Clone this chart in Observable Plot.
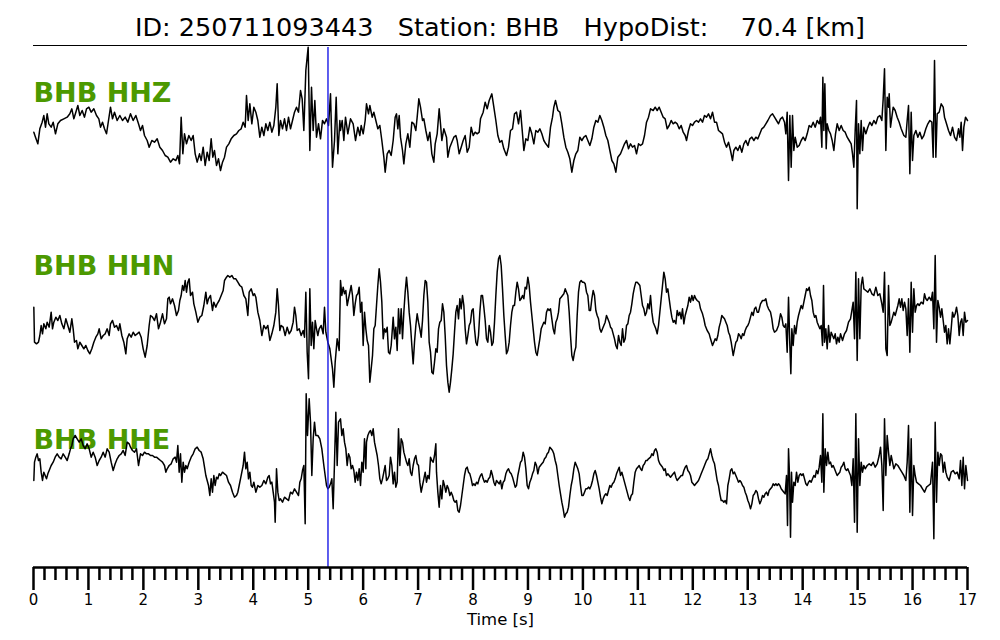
<!DOCTYPE html>
<html><head><meta charset="utf-8">
<script src="https://cdn.jsdelivr.net/npm/d3@7"></script>
<script src="https://cdn.jsdelivr.net/npm/@observablehq/plot@0.6"></script>
<style>
html,body{margin:0;padding:0;background:#fff;}
#wrap{position:relative;width:1000px;height:640px;}
#title{position:absolute;left:33px;width:934px;top:15px;font-family:"DejaVu Sans";font-size:25.5px;line-height:1;text-align:center;white-space:pre;color:#000;}
#rule{position:absolute;left:33px;width:934px;top:45.3px;height:0;border-top:1.5px solid #000;}
#chart{position:absolute;left:0;top:0;}
</style></head><body>
<div id="wrap"><div id="chart"></div><div id="title"></div><div id="rule"></div></div>
<script>
// ---- data ----
const eventId = "250711093443";
const station = "BHB";
const hypoDist = 70.4;            // km
const channels = ["HHZ", "HHN", "HHE"];
const traceOffset = [0, -615, -1035]; // vertical separation of traces (counts)
const sampleRate = 164.82;        // digitised samples per second
const firstSample = 9;            // sample index at t = 0
const pickTime = 5.36;            // s, blue pick line
const majorTicks = [0,1,2,3,4,5,6,7,8,9,10,11,12,13,14,15,16,17];
const xLabel = "Time [s]";

// traces: flat pairs [sample, counts]
const hhz = [10,-275,15,-290,22,-310,28,-265,35,-245,40,-225,45,-260,50,-220,55,-250,62,-260,68,-245,75,-280,82,-250,90,-240,100,-235,110,-230,118,-220,124,-205,130,-235,136,-215,142,-195,148,-225,155,-210,162,-230,168,-205,175,-200,182,-215,190,-205,198,-225,205,-235,210,-260,216,-245,222,-265,228,-280,234,-240,240,-200,246,-235,252,-215,260,-240,268,-225,276,-240,284,-230,292,-245,300,-220,308,-240,316,-225,324,-250,330,-270,336,-255,342,-285,350,-300,356,-320,364,-300,372,-305,380,-295,388,-320,396,-330,404,-345,412,-350,420,-365,428,-355,436,-360,442,-345,447,-370,452,-230,457,-340,462,-280,468,-310,475,-285,482,-300,488,-285,494,-340,500,-365,507,-340,512,-360,518,-320,524,-375,530,-335,536,-360,542,-295,547,-350,552,-330,558,-375,564,-355,570,-390,576,-365,582,-350,588,-320,595,-310,602,-295,610,-285,618,-280,625,-270,632,-265,638,-245,644,-260,648,-165,653,-240,658,-190,664,-250,670,-200,676,-215,682,-240,688,-290,694,-260,700,-285,706,-250,712,-270,718,-245,724,-275,730,-255,736,-200,740,-130,745,-285,750,-240,756,-265,762,-235,768,-270,774,-230,780,-265,786,-240,792,-215,798,-200,804,-215,810,-150,815,-175,820,-270,826,-90,833,-20,838,-330,843,-140,848,-270,853,-180,858,-290,864,-250,870,-295,876,-240,882,-250,888,-235,894,-255,900,-160,906,-380,912,-300,917,-170,922,-340,928,-240,
930,-270,935,-240,940,-300,945,-230,952,-280,960,-235,968,-250,975,-300,982,-260,988,-285,992,-255,998,-280,1004,-240,1008,-190,1014,-220,1018,-195,1025,-230,1030,-215,1036,-240,1042,-265,1048,-255,1054,-300,1060,-350,1064,-395,1070,-340,1076,-330,1082,-345,1088,-300,1094,-230,1098,-220,1102,-265,1106,-225,1110,-290,1116,-330,1120,-370,1126,-310,1132,-280,1138,-320,1144,-245,1150,-250,1156,-270,1160,-230,1165,-175,1170,-200,1176,-240,1180,-235,1186,-270,1192,-300,1198,-275,1204,-340,1210,-365,1214,-310,1220,-280,1226,-205,1230,-250,1234,-300,1240,-265,1248,-290,1252,-350,1258,-320,1264,-305,1270,-290,1276,-285,1280,-300,1286,-340,1292,-320,1298,-300,1304,-285,1310,-335,1316,-320,1322,-260,1328,-285,1334,-275,1340,-280,1346,-275,1350,-235,1358,-215,1364,-185,1370,-205,1376,-180,1384,-160,1390,-200,1396,-240,1402,-285,1408,-305,1414,-300,1420,-325,1428,-345,1434,-320,1440,-270,1446,-265,1452,-220,1458,-215,1464,-250,1470,-210,1476,-280,1480,-330,1486,-295,1492,-300,1498,-260,1504,-280,1510,-310,1516,-270,1522,-275,1528,-265,1534,-280,1540,-300,1546,-310,1554,-320,1560,-260,1566,-230,1570,-200,1575,-180,1582,-210,1588,-215,1594,-250,1600,-290,1606,-320,1612,-335,1618,-355,1624,-395,1630,-360,1636,-340,1642,-330,1648,-290,1654,-300,1660,-290,1666,-285,1672,-300,1678,-315,1684,-295,1690,-260,1696,-240,1702,-245,1708,-225,1714,-240,1720,-260,1726,-285,1732,-300,1738,-330,1744,-360,1750,-370,1756,-395,1762,-350,1770,-340,1776,-325,1782,-310,1788,-300,1794,-325,1800,-310,1806,-320,1812,-315,1818,-340,1824,-310,1830,-315,1836,-310,1842,-285,1848,-245,1854,-230,
1860,-205,1868,-210,1874,-200,1880,-210,1886,-200,1892,-215,1898,-230,1904,-235,1910,-265,1916,-255,1922,-240,1928,-250,1934,-245,1940,-250,1946,-265,1952,-255,1958,-275,1964,-285,1968,-300,1974,-270,1980,-250,1986,-255,1992,-245,1998,-240,2004,-245,2010,-235,2016,-245,2022,-225,2028,-230,2034,-220,2040,-235,2046,-215,2052,-245,2058,-245,2064,-270,2070,-275,2076,-280,2082,-305,2088,-320,2094,-305,2100,-330,2106,-360,2110,-330,2116,-320,2122,-330,2128,-315,2134,-335,2140,-310,2146,-300,2152,-315,2158,-295,2164,-290,2170,-300,2176,-290,2182,-295,2188,-280,2194,-265,2200,-260,2206,-250,2212,-240,2220,-225,2226,-220,2232,-230,2238,-240,2244,-250,2250,-235,2256,-230,2262,-245,2266,-280,2270,-215,2274,-420,2278,-225,2282,-380,2286,-225,2290,-330,2294,-290,2300,-320,2306,-315,2312,-300,2318,-290,2324,-300,2330,-280,2336,-255,2342,-260,2348,-245,2354,-260,2360,-240,2366,-250,2370,-230,2374,-320,2377,-110,2380,-270,2383,-130,2387,-325,2390,-250,2395,-270,2400,-280,2405,-300,2410,-330,2415,-280,2420,-250,2426,-270,2432,-255,2438,-270,2444,-275,2450,-290,2456,-300,2462,-310,2466,-340,2470,-380,2474,-270,2478,-180,2480,-505,2484,-250,2488,-340,2492,-240,2496,-330,2500,-260,2506,-280,2512,-260,2518,-245,2524,-255,2530,-240,2536,-250,2542,-230,2548,-225,2554,-240,2558,-175,2562,-85,2566,-330,2570,-170,2574,-200,2576,-160,2580,-260,2584,-230,2588,-200,2594,-210,2600,-230,2606,-245,2612,-265,2620,-285,2626,-290,2630,-240,2634,-195,2638,-400,2642,-215,2646,-360,2650,-285,2656,-270,2662,-290,2668,-275,2674,-295,2680,-285,2686,-265,2692,-250,2698,-240,2704,-245,2708,-350,2712,-60,2716,-350,2720,-220,2726,-215,2732,-190,2738,-200,2742,-230,2748,-250,2754,-270,2760,-285,2766,-260,2772,-290,2778,-300,2784,-265,2788,-290,2792,-245,2796,-330,2800,-260,2805,-230,2811,-240];

const hhn = [10,-185,12,-290,18,-295,24,-290,28,-270,32,-240,36,-265,40,-235,46,-250,50,-230,56,-245,62,-200,66,-250,70,-230,76,-215,82,-225,88,-210,94,-235,100,-250,106,-220,112,-240,118,-260,124,-220,128,-250,132,-290,138,-285,142,-310,148,-290,154,-300,160,-310,166,-300,172,-315,178,-325,184,-310,190,-290,196,-275,202,-265,206,-250,212,-280,218,-270,224,-265,230,-250,236,-270,240,-235,246,-225,252,-245,258,-240,264,-255,268,-235,274,-270,280,-290,286,-325,290,-280,296,-265,302,-275,308,-260,314,-270,320,-265,326,-260,332,-275,338,-310,344,-335,350,-300,356,-240,360,-210,366,-215,372,-225,378,-205,384,-250,390,-230,396,-205,402,-235,408,-220,412,-160,416,-155,420,-175,426,-160,432,-180,438,-210,444,-195,448,-165,452,-150,456,-120,460,-135,464,-105,468,-140,472,-110,476,-100,480,-150,486,-140,490,-175,496,-200,502,-230,508,-215,514,-210,520,-180,526,-140,530,-175,534,-160,540,-150,546,-195,550,-170,556,-185,560,-175,566,-165,572,-150,578,-135,582,-105,588,-95,592,-90,598,-95,604,-90,610,-100,616,-100,622,-110,628,-120,634,-125,640,-150,646,-160,652,-210,656,-140,662,-130,668,-150,672,-145,676,-155,682,-200,688,-225,694,-270,700,-240,706,-250,712,-240,718,-285,724,-265,730,-240,736,-200,740,-130,744,-180,748,-255,752,-240,758,-245,764,-270,770,-245,776,-265,782,-255,788,-230,792,-185,796,-210,800,-255,806,-250,812,-270,818,-255,822,-275,826,-140,830,-320,834,-400,838,-130,842,-300,846,-230,850,-310,854,-225,858,-250,862,-270,866,-250,872,-240,878,-265,882,-185,886,-260,892,-290,898,-310,902,-340,906,-370,910,-425,914,-350,920,-280,926,-315,
930,-105,934,-150,938,-125,942,-145,946,-135,950,-180,956,-150,962,-120,966,-150,970,-210,974,-175,978,-150,982,-145,986,-125,990,-200,994,-170,998,-300,1002,-200,1006,-250,1010,-285,1014,-300,1018,-410,1022,-370,1026,-330,1030,-250,1034,-240,1038,-180,1042,-120,1046,-70,1050,-110,1054,-170,1058,-280,1062,-250,1066,-260,1070,-245,1074,-320,1078,-325,1082,-300,1086,-245,1088,-215,1092,-280,1096,-245,1100,-315,1104,-190,1108,-265,1112,-190,1116,-280,1120,-200,1124,-140,1128,-95,1132,-140,1136,-200,1140,-240,1144,-300,1148,-355,1152,-290,1156,-240,1160,-205,1164,-230,1168,-250,1172,-275,1176,-225,1180,-150,1184,-105,1188,-110,1192,-170,1196,-290,1200,-320,1204,-380,1208,-385,1212,-350,1216,-310,1220,-320,1224,-250,1228,-230,1232,-225,1236,-175,1240,-200,1244,-270,1248,-360,1252,-410,1256,-440,1260,-410,1264,-370,1268,-325,1272,-260,1276,-200,1280,-180,1284,-220,1288,-160,1292,-190,1296,-150,1300,-180,1304,-250,1308,-295,1312,-270,1316,-240,1320,-230,1324,-195,1328,-190,1332,-250,1336,-290,1340,-300,1344,-270,1348,-200,1352,-150,1356,-150,1360,-185,1364,-225,1368,-280,1372,-290,1376,-240,1380,-260,1384,-300,1388,-290,1392,-230,1396,-150,1400,-80,1404,-40,1408,-30,1412,-60,1416,-130,1420,-210,1424,-270,1428,-325,1432,-315,1436,-290,1440,-240,1444,-200,1448,-180,1452,-180,1456,-140,1460,-110,1464,-130,1468,-165,1472,-160,1476,-150,1480,-160,1484,-125,1488,-130,1492,-95,1496,-120,1500,-170,1504,-210,1508,-250,1512,-290,1516,-320,1520,-330,1524,-305,1528,-280,1532,-250,1536,-240,1540,-230,1544,-235,1548,-200,1552,-190,1556,-195,1560,-190,1564,-220,1568,-250,1572,-265,1576,-230,1580,-220,1584,-200,1588,-160,1592,-155,1596,-150,1600,-145,1604,-130,1608,-140,1612,-150,1616,-200,1620,-270,1624,-330,1628,-345,1632,-320,1636,-305,1640,-210,1644,-140,1648,-110,1652,-105,1656,-110,1660,-110,1664,-115,1668,-140,1672,-150,1676,-195,1680,-195,1684,-160,1688,-135,1692,-150,1696,-195,1700,-210,1704,-220,1708,-250,1712,-260,1716,-250,1720,-240,1724,-230,1728,-210,1732,-220,1736,-230,1740,-245,1744,-250,1748,-265,1752,-280,1756,-300,1760,-310,1764,-270,1768,-290,1772,-300,1776,-250,1780,-290,1784,-280,1788,-240,1792,-235,1796,-210,1800,-200,1804,-175,1808,-145,1812,-125,1816,-110,1820,-110,1824,-115,1828,-120,1832,-150,1836,-180,1840,-190,1844,-210,1848,-200,1852,-175,1856,-190,
1860,-150,1864,-200,1868,-230,1872,-240,1876,-250,1880,-265,1884,-240,1888,-200,1892,-160,1896,-120,1900,-80,1904,-100,1908,-140,1912,-130,1916,-160,1920,-190,1924,-215,1928,-230,1932,-225,1936,-235,1940,-195,1944,-210,1948,-200,1952,-220,1956,-190,1960,-235,1964,-210,1968,-195,1972,-180,1976,-155,1980,-170,1984,-150,1988,-165,1992,-150,1996,-160,2000,-165,2006,-170,2010,-190,2016,-205,2020,-220,2024,-240,2030,-255,2036,-265,2040,-280,2046,-300,2050,-290,2054,-280,2058,-285,2062,-270,2066,-245,2070,-230,2074,-210,2078,-215,2082,-220,2086,-230,2090,-240,2094,-260,2098,-270,2102,-290,2108,-330,2112,-310,2116,-290,2120,-285,2124,-265,2128,-270,2132,-280,2136,-265,2140,-270,2144,-255,2148,-245,2152,-240,2156,-230,2160,-215,2164,-200,2168,-210,2172,-190,2176,-185,2180,-200,2184,-200,2190,-175,2196,-165,2202,-165,2206,-160,2210,-180,2214,-190,2220,-200,2224,-220,2228,-250,2232,-260,2238,-255,2244,-240,2250,-205,2254,-215,2258,-240,2262,-245,2266,-235,2270,-320,2274,-155,2278,-300,2281,-385,2284,-250,2288,-300,2292,-240,2296,-265,2300,-230,2304,-210,2308,-195,2312,-180,2316,-190,2320,-170,2324,-150,2328,-130,2332,-135,2336,-125,2340,-150,2344,-165,2348,-200,2352,-215,2356,-210,2360,-230,2364,-240,2368,-250,2372,-240,2376,-300,2379,-120,2382,-290,2386,-250,2390,-310,2394,-240,2398,-290,2402,-260,2406,-270,2410,-280,2414,-265,2418,-295,2422,-275,2426,-290,2430,-265,2436,-285,2442,-265,2448,-255,2454,-230,2460,-220,2464,-195,2468,-170,2472,-280,2476,-80,2480,-345,2484,-100,2488,-280,2492,-120,2496,-95,2500,-130,2506,-135,2512,-140,2518,-130,2524,-145,2530,-150,2536,-125,2542,-150,2548,-145,2554,-175,2558,-200,2562,-80,2566,-310,2570,-330,2574,-120,2578,-240,2582,-230,2586,-215,2590,-200,2594,-210,2598,-195,2602,-180,2606,-160,2610,-185,2614,-160,2618,-195,2622,-170,2626,-190,2630,-270,2634,-160,2638,-320,2642,-110,2646,-260,2650,-130,2654,-200,2658,-180,2662,-175,2666,-180,2672,-170,2678,-175,2682,-145,2686,-160,2690,-165,2696,-155,2702,-165,2706,-140,2710,-250,2714,-30,2718,-290,2722,-165,2726,-185,2730,-215,2734,-190,2738,-225,2742,-260,2746,-240,2750,-295,2754,-250,2758,-295,2762,-250,2766,-200,2770,-215,2774,-205,2778,-185,2782,-210,2786,-270,2790,-230,2794,-220,2798,-270,2802,-200,2806,-230,2811,-225];

const hhe = [10,-285,12,-230,16,-215,20,-205,24,-225,28,-220,32,-260,36,-285,40,-260,44,-270,48,-280,52,-265,56,-255,62,-240,68,-230,74,-215,80,-205,86,-215,92,-220,98,-205,104,-215,110,-225,116,-205,120,-190,124,-180,128,-160,134,-150,140,-160,146,-170,152,-160,158,-180,164,-190,170,-175,176,-190,182,-215,188,-200,194,-215,200,-240,206,-225,212,-215,218,-200,224,-215,230,-190,236,-200,242,-230,248,-255,254,-235,260,-220,266,-210,272,-205,278,-195,284,-210,290,-170,296,-175,300,-185,306,-195,312,-200,318,-190,324,-240,330,-205,336,-210,342,-200,348,-205,354,-205,360,-210,366,-210,372,-215,378,-215,384,-220,390,-225,396,-230,402,-240,406,-260,410,-250,416,-240,422,-235,428,-220,434,-215,438,-230,442,-180,446,-260,450,-205,454,-290,458,-230,462,-260,466,-240,470,-250,476,-230,482,-215,488,-205,494,-190,500,-185,506,-195,512,-200,518,-220,522,-245,526,-270,530,-285,534,-300,538,-330,542,-280,546,-320,550,-270,554,-300,558,-275,562,-280,566,-265,570,-270,576,-260,582,-265,588,-270,594,-290,600,-300,606,-320,612,-335,618,-330,622,-320,626,-300,630,-280,634,-260,638,-240,642,-200,646,-250,650,-230,654,-280,658,-260,662,-300,666,-305,670,-290,676,-320,682,-300,688,-305,694,-300,700,-285,706,-295,712,-275,716,-270,720,-295,724,-290,728,-320,732,-350,734,-410,738,-250,742,-320,746,-345,750,-340,756,-350,762,-335,768,-340,774,-345,780,-320,786,-325,792,-310,798,-320,804,-330,808,-290,812,-280,816,-255,820,-240,824,-415,827,-25,831,-150,836,-40,840,-110,844,-270,848,-160,852,-110,856,-150,862,-150,868,-160,874,-190,880,-240,884,-270,888,-300,892,-310,896,-305,900,-295,904,-280,908,-370,912,-230,916,-80,920,-240,924,-110,
930,-100,934,-150,938,-130,942,-170,946,-190,950,-240,954,-205,958,-215,962,-250,966,-240,970,-255,974,-290,978,-260,982,-285,986,-250,990,-300,994,-230,998,-260,1002,-160,1006,-250,1008,-170,1012,-150,1016,-140,1020,-135,1024,-150,1028,-130,1032,-170,1036,-190,1040,-210,1044,-240,1048,-280,1052,-295,1056,-280,1060,-260,1064,-240,1068,-285,1072,-280,1076,-270,1080,-215,1084,-240,1088,-295,1092,-260,1096,-305,1100,-290,1104,-130,1108,-240,1112,-160,1116,-170,1120,-200,1124,-215,1128,-230,1132,-240,1136,-220,1140,-260,1144,-270,1148,-240,1152,-220,1156,-210,1160,-235,1164,-240,1168,-290,1172,-320,1176,-300,1180,-280,1184,-260,1188,-290,1192,-270,1196,-280,1200,-215,1204,-225,1208,-230,1212,-210,1216,-175,1218,-260,1222,-320,1226,-365,1230,-300,1234,-340,1238,-285,1242,-300,1246,-320,1250,-300,1254,-310,1258,-330,1262,-320,1266,-330,1270,-345,1274,-350,1278,-345,1282,-375,1286,-380,1290,-360,1294,-330,1298,-300,1302,-270,1306,-250,1310,-245,1314,-260,1318,-265,1322,-280,1326,-300,1330,-295,1334,-300,1338,-290,1342,-295,1346,-280,1350,-270,1354,-265,1358,-280,1362,-290,1366,-285,1370,-290,1374,-280,1378,-275,1382,-255,1386,-270,1390,-290,1394,-300,1398,-285,1402,-290,1406,-295,1410,-285,1414,-310,1418,-290,1422,-285,1426,-265,1430,-255,1434,-250,1438,-260,1442,-265,1446,-275,1450,-290,1454,-305,1458,-300,1462,-270,1466,-250,1470,-230,1474,-225,1478,-200,1482,-215,1486,-250,1490,-300,1494,-310,1498,-290,1502,-280,1506,-265,1510,-255,1514,-230,1518,-240,1522,-265,1526,-245,1530,-240,1534,-235,1538,-230,1542,-220,1546,-215,1550,-205,1554,-200,1558,-185,1562,-190,1566,-195,1570,-205,1574,-225,1578,-240,1582,-270,1586,-300,1590,-325,1594,-350,1598,-370,1602,-395,1606,-385,1610,-380,1614,-365,1618,-330,1622,-300,1626,-280,1630,-250,1634,-230,1638,-240,1642,-250,1646,-265,1650,-300,1654,-330,1658,-330,1662,-320,1666,-310,1670,-310,1674,-305,1678,-310,1682,-300,1686,-285,1690,-265,1694,-255,1698,-270,1702,-290,1706,-310,1710,-335,1714,-355,1718,-340,1722,-330,1726,-325,1730,-330,1734,-315,1738,-300,1742,-305,1746,-295,1750,-290,1754,-280,1758,-265,1762,-255,1766,-245,1770,-270,1774,-260,1778,-275,1782,-290,1786,-305,1790,-320,1794,-335,1798,-345,1802,-330,1806,-325,1810,-290,1814,-260,1818,-250,1822,-245,1826,-240,1830,-250,1834,-255,1838,-240,1842,-235,1846,-225,1850,-225,1854,-220,
1860,-215,1864,-205,1868,-210,1872,-195,1876,-190,1880,-200,1884,-225,1888,-235,1892,-240,1896,-245,1900,-255,1904,-250,1908,-270,1912,-265,1916,-270,1920,-275,1924,-270,1928,-265,1932,-260,1936,-275,1940,-285,1944,-280,1948,-275,1952,-270,1956,-270,1960,-255,1964,-245,1968,-240,1972,-255,1976,-260,1980,-270,1984,-290,1988,-295,1992,-300,1996,-295,2000,-290,2004,-285,2008,-275,2012,-265,2016,-255,2020,-245,2024,-235,2028,-225,2032,-220,2036,-205,2040,-190,2044,-210,2048,-225,2052,-235,2056,-260,2060,-285,2064,-300,2068,-325,2072,-345,2076,-345,2080,-350,2084,-345,2088,-355,2092,-300,2096,-280,2100,-255,2104,-250,2108,-265,2112,-260,2116,-270,2120,-280,2124,-290,2128,-285,2132,-290,2136,-300,2140,-305,2144,-320,2148,-330,2152,-345,2156,-355,2160,-370,2164,-355,2168,-330,2172,-325,2176,-315,2180,-320,2184,-340,2188,-355,2192,-345,2196,-330,2200,-335,2204,-325,2208,-320,2212,-330,2216,-315,2220,-310,2224,-305,2228,-295,2232,-300,2236,-295,2240,-300,2244,-295,2248,-300,2252,-310,2256,-315,2260,-320,2264,-325,2268,-270,2271,-420,2274,-190,2277,-270,2280,-455,2283,-260,2286,-350,2290,-290,2294,-300,2298,-260,2302,-290,2306,-270,2310,-265,2314,-270,2318,-265,2322,-280,2326,-295,2330,-300,2334,-290,2338,-285,2342,-290,2346,-280,2350,-270,2354,-275,2358,-255,2362,-265,2366,-245,2370,-210,2374,-290,2377,-85,2380,-320,2384,-190,2388,-240,2392,-200,2396,-235,2400,-230,2404,-245,2408,-240,2412,-250,2416,-260,2420,-270,2424,-265,2428,-260,2432,-245,2436,-240,2440,-230,2444,-250,2448,-255,2452,-250,2456,-260,2460,-270,2464,-300,2468,-220,2472,-410,2476,-85,2480,-440,2484,-160,2488,-300,2492,-230,2496,-260,2500,-240,2504,-250,2510,-240,2516,-235,2522,-240,2528,-230,2534,-245,2540,-235,2546,-210,2550,-185,2554,-240,2558,-375,2562,-100,2566,-270,2570,-150,2574,-200,2578,-240,2582,-210,2586,-230,2590,-250,2596,-235,2602,-240,2608,-250,2614,-260,2620,-270,2626,-285,2630,-230,2634,-120,2638,-380,2642,-160,2646,-390,2650,-240,2654,-270,2658,-290,2664,-295,2670,-300,2676,-310,2682,-320,2688,-305,2694,-300,2700,-295,2706,-230,2710,-460,2714,-110,2718,-350,2722,-200,2726,-240,2730,-205,2734,-210,2738,-260,2742,-230,2746,-260,2750,-275,2756,-285,2762,-260,2768,-255,2774,-265,2780,-260,2786,-280,2790,-225,2794,-300,2798,-215,2802,-310,2806,-240,2811,-285];

// ---- build ----
const traceData = {HHZ: hhz, HHN: hhn, HHE: hhe};
const rows = channels.flatMap((ch, k) => {
  const a = traceData[ch], out = [];
  for (let i = 0; i < a.length; i += 2) {
    out.push({ch, t: (a[i] - firstSample) / sampleRate, v: a[i + 1] + traceOffset[k]});
  }
  return out;
});

document.getElementById("title").textContent =
  `ID: ${eventId}   Station: ${station}   HypoDist:    ${hypoDist.toFixed(1)} [km]`;

const minorTicks = d3.range(0, 85).filter(i => i % 5 !== 0).map(i => i / 5);
const labelBaseline = [54, 227, 401]; // px below frame top
const font = "DejaVu Sans";

const chart = Plot.plot({
  width: 1000,
  height: 640,
  marginLeft: 33,
  marginRight: 33,
  marginTop: 47,
  marginBottom: 73,
  style: {fontFamily: font, background: "white", overflow: "visible"},
  x: {domain: [0, 17]},
  y: {domain: [-1581, -21], axis: null},
  marks: [
    ...channels.map((ch, k) => Plot.text([`${station} ${ch}`], {
      text: d => d, frameAnchor: "top-left", lineAnchor: "bottom", textAnchor: "start",
      dy: labelBaseline[k], fill: "#4c9900", fontWeight: "bold", fontSize: 27, fontFamily: font
    })),
    Plot.line(rows, {x: "t", y: "v", z: "ch", stroke: "black", strokeWidth: 1.5}),
    Plot.ruleX([pickTime], {stroke: "#1a1ae6", strokeWidth: 1.4}),
    Plot.ruleY([-1581], {stroke: "black", strokeWidth: 2.5}),
    Plot.axisX({ticks: minorTicks, tickSize: 13, tickFormat: () => "", strokeWidth: 2.5, label: null, anchor: "bottom"}),
    Plot.axisX({ticks: majorTicks, tickSize: 23, tickPadding: 4, strokeWidth: 2.5, fontSize: 15, label: null, anchor: "bottom", fill: "black", tickFormat: d3.format("d")}),
    Plot.text([xLabel], {text: d => d, frameAnchor: "bottom", dy: 57.5, lineAnchor: "bottom", fontSize: 16.5, fontFamily: font, fill: "black"})
  ]
});
document.getElementById("chart").appendChild(chart);
</script>
</body></html>
